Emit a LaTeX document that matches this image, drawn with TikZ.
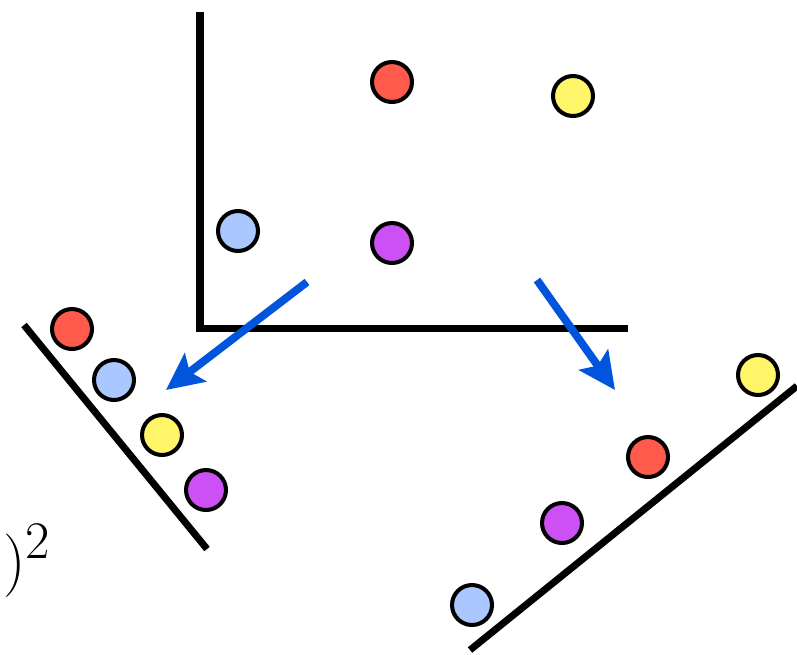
\documentclass[tikz,border=0pt]{standalone}
\usepackage{amsmath}
\usetikzlibrary{arrows.meta}

\definecolor{dotred}{RGB}{255,90,75}
\definecolor{dotyellow}{RGB}{255,245,105}
\definecolor{dotblue}{RGB}{170,200,255}
\definecolor{dotpurple}{RGB}{205,80,245}
\definecolor{arrowblue}{RGB}{0,85,220}

\tikzset{
	dot/.style={circle,draw=black,line width=2.3pt,minimum size=0.8cm,inner sep=0pt},
	axis/.style={line width=4pt,black},
	proj/.style={line width=4.5pt,arrowblue,-{Stealth[length=21pt,width=20pt,inset=4pt]}}
}

\begin{document}
\begin{tikzpicture}[x=0.02cm,y=-0.02cm]
	\useasboundingbox (0,0) rectangle (797,654);
	% original data
	\coordinate (T) at (200,12);
	\coordinate (O) at (200,328);
	\coordinate (R) at (628,328);
	\draw[axis,line join=miter] (T) -- (O) -- (R);
	\node[dot,fill=dotred] (r) at (392,82) {};
	\node[dot,fill=dotyellow] (y) at (573,96) {};
	\node[dot,fill=dotblue] (b) at (238,231) {};
	\node[dot,fill=dotpurple] (p) at (392,243) {};
	% arrows
	\coordinate (A1) at (307,282);
	\coordinate (B1) at (166,390);
	\coordinate (A2) at (537,280);
	\coordinate (B2) at (615,390);
	\draw[proj] (A1) -- (B1);
	\draw[proj] (A2) -- (B2);
	% left projection
	\coordinate (L1) at (24,325);
	\coordinate (L2) at (207,549);
	\draw[axis] (L1) -- (L2);
	\node[dot,fill=dotred] (lr) at (72,329) {};
	\node[dot,fill=dotblue] (lb) at (114,380) {};
	\node[dot,fill=dotyellow] (ly) at (162,435) {};
	\node[dot,fill=dotpurple] (lp) at (206,490) {};
	% right projection
	\coordinate (M1) at (470,650);
	\coordinate (M2) at (797,386);
	\draw[axis] (M1) -- (M2);
	\node[dot,fill=dotblue] (rb) at (472,605) {};
	\node[dot,fill=dotpurple] (rp) at (562,523) {};
	\node[dot,fill=dotred] (rr) at (648,457) {};
	\node[dot,fill=dotyellow] (ry) at (758,375) {};
	% label
	\node[inner sep=0pt,anchor=base west,font=\Huge,scale=1.45] (sq) at (3,581) {$)^2$};
\end{tikzpicture}
\end{document}
